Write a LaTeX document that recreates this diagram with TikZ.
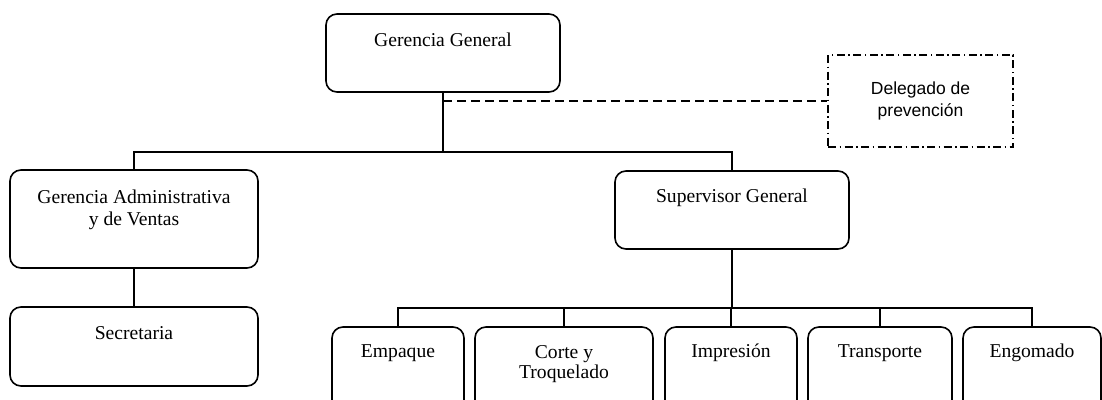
\documentclass[tikz,border=0pt]{standalone}
\usepackage{fontspec}
\setmainfont{Liberation Serif}
\newfontfamily\arialfont{Liberation Sans}
\begin{document}
\begin{tikzpicture}[x=1pt,y=-1pt,
  box/.style={draw=black, line width=1.6pt, rounded corners=11pt, rectangle, inner sep=0pt},
  txt/.style={font=\fontsize{19.6}{22}\selectfont, align=center, inner sep=0pt, anchor=base},
  conn/.style={draw=black, line width=2.6pt},
  dashconn/.style={draw=black, line width=2.3pt, dash pattern=on 9pt off 5pt},
  dashdotbox/.style={draw=black, line width=2pt, dash pattern=on 8pt off 3.5pt on 1.5pt off 3.5pt, rectangle, inner sep=0pt}]
\useasboundingbox (0,0) rectangle (1102,399);
\clip (0,0) rectangle (1102,399);
% boxes
\node[box, minimum width=234pt, minimum height=78pt] (gg) at (443,53) {};
\node[dashdotbox, minimum width=185pt, minimum height=92pt] (del) at (920.5,101) {};
\node[box, minimum width=248pt, minimum height=98pt] (ga) at (134,219) {};
\node[box, minimum width=248pt, minimum height=79pt] (sec) at (134,346.5) {};
\node[box, minimum width=234pt, minimum height=78pt] (sup) at (732,210) {};
\node[box, minimum width=132pt, minimum height=100pt] (emp) at (398,377) {};
\node[box, minimum width=178pt, minimum height=100pt] (cor) at (564,377) {};
\node[box, minimum width=132pt, minimum height=100pt] (imp) at (731,377) {};
\node[box, minimum width=144pt, minimum height=100pt] (tra) at (880,377) {};
\node[box, minimum width=138pt, minimum height=100pt] (eng) at (1032,377) {};
% texts
\node[txt] (tgg) at ([yshift=-33pt]gg.north) {Gerencia General};
\node[font=\arialfont\fontsize{17.5}{22}\selectfont, align=center, inner sep=0pt] (tdel) at (del.center) {Delegado de\\prevención};
\node[txt] (tga) at ([yshift=-56pt]ga.north) {Gerencia Administrativa\\y de Ventas};
\node[txt] (tsec) at ([yshift=-33pt]sec.north) {Secretaria};
\node[txt] (tsup) at ([yshift=-32pt]sup.north) {Supervisor General};
\node[txt] (temp) at ([yshift=-31pt]emp.north) {Empaque};
\node[txt,font=\fontsize{19.6}{20}\selectfont] (tcor) at ([yshift=-52pt]cor.north) {Corte y\\Troquelado};
\node[txt] (timp) at ([yshift=-31pt]imp.north) {Impresión};
\node[txt] (ttra) at ([yshift=-31pt]tra.north) {Transporte};
\node[txt] (teng) at ([yshift=-31pt]eng.north) {Engomado};
% connectors
\coordinate (j1) at (443,152);
\coordinate (j2) at (732,308);
\draw[conn] (gg.south) -- (j1);
\draw[dashconn] (gg.south |- del.west) -- (del.west);
\draw[conn] (ga.north) -- (ga.north |- j1) -- (sup.north |- j1) -- (sup.north);
\draw[conn] (ga.south) -- (sec.north);
\draw[conn] (sup.south) -- (j2);
\draw[conn] (emp.north) -- (emp.north |- j2) -- (eng.north |- j2) -- (eng.north);
\draw[conn] (cor.north) -- (cor.north |- j2);
\draw[conn] (imp.north) -- (imp.north |- j2);
\draw[conn] (tra.north) -- (tra.north |- j2);
\end{tikzpicture}
\end{document}
